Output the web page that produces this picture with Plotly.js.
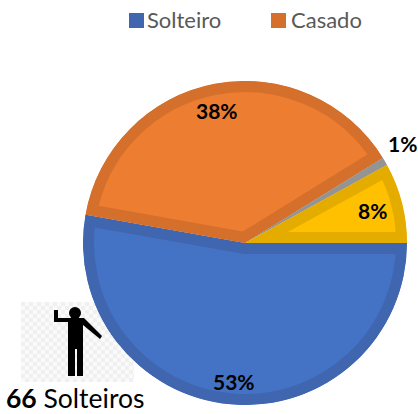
<!DOCTYPE html>
<html><head><meta charset="utf-8">
<script src="https://cdn.plot.ly/plotly-3.0.1.min.js"></script>
<style>html,body{margin:0;padding:0;background:#fff}#c{width:418px;height:414px}</style></head>
<body><div id="c"></div>
<script>
const labels = ['Solteiro','Casado','Outro','Viúvo'];
const values = [66,48,1,10];
const fills = ['#4472C4','#ED7D31','#A5A5A5','#FFC000'];
const edges = ['#3F66AF','#D4702C','#949494','#E5AC00'];
const legendNames = ['Solteiro','Casado'];
const legendColors = ['#3F66AF','#D4702C'];
const W=418,H=414;
const px=x=>x/W, py=y=>1-y/H;
const total=values.reduce((a,b)=>a+b,0);
const pct=v=>Math.round(v/total*100)+'%';
const labelPos=[[234,381],[217,110],[402,143],[372,210]];
const font='Lato,"Noto Sans",sans-serif';
const ann=values.map((v,i)=>({xref:'paper',yref:'paper',x:px(labelPos[i][0]),y:py(labelPos[i][1]),text:'<b>'+pct(v)+'</b>',showarrow:false,font:{family:font,size:21,color:'#000'},xanchor:'center',yanchor:'middle'}));
const legX=[[130,145],[272,289]];
const shapes=[];
legendNames.forEach((n,i)=>{
  shapes.push({type:'rect',xref:'paper',yref:'paper',x0:px(legX[i][0]-1),x1:px(legX[i][0]+14),y0:py(28),y1:py(13),fillcolor:legendColors[i],line:{width:0}});
  ann.push({xref:'paper',yref:'paper',x:px(legX[i][1]),y:py(20),text:n,showarrow:false,font:{family:font,size:22,color:'#595959'},xanchor:'left',yanchor:'middle'});
});
ann.push({xref:'paper',yref:'paper',x:px(6),y:py(398),text:'<b>66</b> Solteiros',showarrow:false,font:{family:font,size:26.5,color:'#000'},xanchor:'left',yanchor:'middle',borderpad:0,borderwidth:0});
const svg='<svg xmlns="http://www.w3.org/2000/svg" width="113" height="80"><defs><pattern id="p" width="8" height="8" patternUnits="userSpaceOnUse"><rect width="8" height="8" fill="#fafafa"/><rect width="4" height="4" fill="#f0f0f0"/><rect x="4" y="4" width="4" height="4" fill="#f0f0f0"/></pattern></defs><rect width="113" height="80" fill="url(#p)"/></svg>';
const images=[{source:'data:image/svg+xml;utf8,'+encodeURIComponent(svg),xref:'paper',yref:'paper',x:px(21),y:py(302),sizex:113/W,sizey:80/H,sizing:'stretch',xanchor:'left',yanchor:'top',layer:'below'}];
function P(pts){return 'M'+pts.map(p=>px(p[0])+','+py(p[1])).join(' L')+' Z';}
const body=[[54,310],[58,310],[58,318],[84,318],[102,336],[100,339],[83,325],[83,376],[77,376],[77,349],[75,349],[75,376],[68,376],[68,322],[54,322]];
shapes.push({type:'path',xref:'paper',yref:'paper',path:P(body),fillcolor:'#000',line:{width:0}});
shapes.push({type:'circle',xref:'paper',yref:'paper',x0:px(69),x1:px(81),y0:py(319),y1:py(307),fillcolor:'#000',line:{width:0}});
const gd=document.getElementById('c');
Plotly.newPlot(gd,[{type:'pie',labels:labels,values:values,sort:false,direction:'clockwise',rotation:90,textinfo:'none',hoverinfo:'label+percent',showlegend:false,
 marker:{colors:fills,line:{color:edges,width:22}},
 domain:{x:[83/W,407/W],y:[1-405/H,1-81/H]}}],
 {width:W,height:H,margin:{l:0,r:0,t:0,b:0},paper_bgcolor:'#fff',showlegend:false,annotations:ann,shapes:shapes,images:images},
 {displayModeBar:false,staticPlot:true}).then(()=>{
  // keep each slice's border inside its own slice: clip the stroke to the slice's outline
  const root=gd.querySelector('svg.main-svg');
  const NS='http://www.w3.org/2000/svg';
  const defs=root.querySelector('defs')||root.insertBefore(document.createElementNS(NS,'defs'),root.firstChild);
  gd.querySelectorAll('g.slice path.surface').forEach((s,i)=>{
    const cp=document.createElementNS(NS,'clipPath');cp.setAttribute('id','sliceclip'+i);
    const p=document.createElementNS(NS,'path');p.setAttribute('d',s.getAttribute('d'));
    cp.appendChild(p);defs.appendChild(cp);
    s.setAttribute('clip-path','url(#sliceclip'+i+')');
  });
 });
</script></body></html>
